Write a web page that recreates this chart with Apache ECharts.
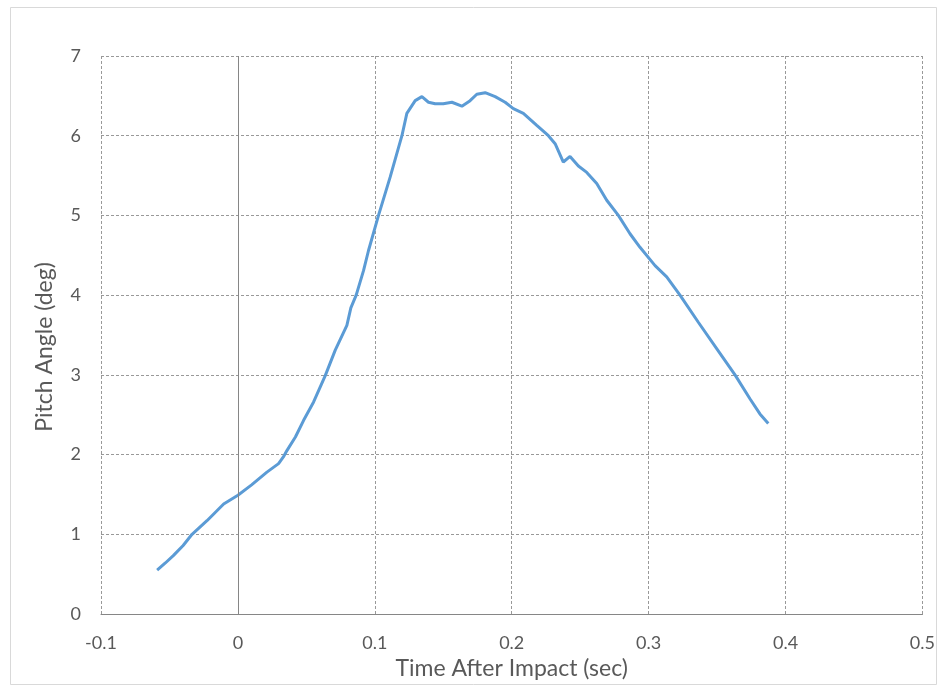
<!DOCTYPE html>
<html>
<head>
<meta charset="utf-8">
<script src="https://cdn.jsdelivr.net/npm/echarts@6/dist/echarts.min.js"></script>
<style>
html,body{margin:0;padding:0;background:#fff;}
#chart{width:938px;height:685px;}
</style>
</head>
<body>
<div id="chart"></div>
<script>
// Time after impact (sec)
var timeSec = [-0.059, -0.053, -0.047, -0.040, -0.0335, -0.0226, -0.0104, 0.0, 0.010, 0.0212, 0.0297, 0.0332, 0.0358, 0.042, 0.048, 0.0553, 0.0638, 0.0711, 0.0796, 0.0825, 0.0864, 0.0918, 0.0954, 0.1027, 0.1112, 0.1198, 0.1234, 0.1295, 0.1344, 0.1392, 0.1441, 0.150, 0.1563, 0.1636, 0.1696, 0.1745, 0.1806, 0.1879, 0.1952, 0.2012, 0.2085, 0.2183, 0.2268, 0.2317, 0.2377, 0.2426, 0.2487, 0.2548, 0.2621, 0.2694, 0.2779, 0.2864, 0.2937, 0.3047, 0.3132, 0.3229, 0.3363, 0.3497, 0.3631, 0.374, 0.3813, 0.3874];
// Pitch angle (deg)
var pitchDeg = [0.55, 0.64, 0.735, 0.86, 1.0, 1.17, 1.38, 1.49, 1.62, 1.78, 1.886, 1.97, 2.05, 2.22, 2.43, 2.66, 2.99, 3.31, 3.62, 3.84, 4.0, 4.31, 4.56, 5.0, 5.48, 6.0, 6.28, 6.44, 6.49, 6.42, 6.40, 6.40, 6.42, 6.37, 6.44, 6.52, 6.54, 6.49, 6.42, 6.34, 6.28, 6.13, 6.0, 5.90, 5.67, 5.74, 5.62, 5.54, 5.40, 5.19, 5.0, 4.77, 4.60, 4.37, 4.23, 4.0, 3.66, 3.33, 3.0, 2.70, 2.51, 2.39];
var xTitle = 'Time After Impact (sec)';
var yTitle = 'Pitch Angle (deg)';

var seriesData = timeSec.map(function (t, i) { return [t, pitchDeg[i]]; });
var FONT = 'Lato, "Open Sans", sans-serif';
var chart = echarts.init(document.getElementById('chart'), null, {renderer: 'canvas'});
chart.setOption({
  backgroundColor: '#ffffff',
  animation: false,
  graphic: [{
    type: 'rect', left: 8, top: 5,
    shape: {width: 926, height: 677},
    style: {fill: 'none', stroke: '#d9d9d9', lineWidth: 1},
    silent: true
  }],
  grid: {left: 101, right: 15, top: 56, bottom: 71, containLabel: false},
  xAxis: {
    type: 'value', min: -0.1, max: 0.5, interval: 0.1,
    name: xTitle, nameLocation: 'middle', nameGap: 43,
    nameTextStyle: {color: '#595959', fontSize: 23, fontFamily: FONT},
    axisLine: {show: true, onZero: false, lineStyle: {color: '#868686', width: 1}},
    axisTick: {show: false},
    axisLabel: {color: '#595959', fontSize: 18, fontFamily: FONT, margin: 20,
      formatter: function (v) { return String(Math.round(v * 10) / 10); }},
    splitLine: {show: true, lineStyle: {color: '#999999', type: [3, 2], width: 1}}
  },
  yAxis: {
    type: 'value', min: 0, max: 7, interval: 1,
    name: yTitle, nameLocation: 'middle', nameGap: 45, nameRotate: 90,
    nameTextStyle: {color: '#595959', fontSize: 23, fontFamily: FONT, padding: [0, 24, 0, 0]},
    axisLine: {show: false},
    axisTick: {show: false},
    axisLabel: {color: '#595959', fontSize: 18, fontFamily: FONT, margin: 20},
    splitLine: {show: true, lineStyle: {color: '#999999', type: [3, 2], width: 1}}
  },
  series: [{
    type: 'line',
    data: seriesData,
    showSymbol: false,
    smooth: false,
    lineStyle: {color: '#5b9bd5', width: 3},
    itemStyle: {color: '#5b9bd5'},
    markLine: {
      silent: true, symbol: ['none', 'none'], label: {show: false},
      lineStyle: {color: '#868686', type: 'solid', width: 1},
      data: [{xAxis: 0}]
    },
    z: 3
  }]
});
</script>
</body>
</html>
